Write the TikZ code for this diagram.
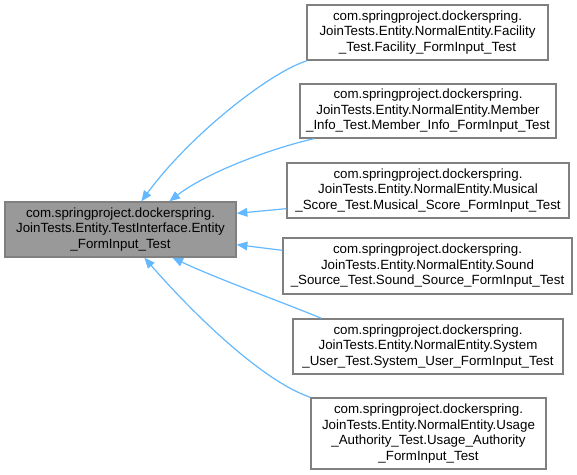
\documentclass[tikz,border=0pt]{standalone}
\usepackage{fontspec}
\setmainfont{Liberation Sans}
\usetikzlibrary{arrows.meta}
\definecolor{edgeblue}{RGB}{99,184,255}
\definecolor{boxborder}{RGB}{128,128,128}
\definecolor{mainfill}{RGB}{153,153,153}
\begin{document}
\begin{tikzpicture}[x=0.75pt,y=-0.75pt,
  cls/.style={draw=boxborder,line width=1pt,fill=white,inner sep=0pt,align=center,
    font=\fontsize{10}{11.6}\selectfont},
  mainbox/.style={cls,fill=mainfill},
  inherit/.style={draw=edgeblue,line width=0.9pt,
    {Triangle[length=8pt,width=6.5pt,fill=edgeblue]}-}]
\useasboundingbox (0,0) rectangle (577,474);
\node[mainbox,minimum width=231*0.75pt,minimum height=55*0.75pt] (main) at (120.5,229.5)
  {com.springproject.dockerspring.\\JoinTests.Entity.TestInterface.Entity\\\_FormInput\_Test};
\node[cls,minimum width=241*0.75pt,minimum height=55*0.75pt] (fac) at (427.5,32.5)
  {com.springproject.dockerspring.\\JoinTests.Entity.NormalEntity.Facility\\\_Test.Facility\_FormInput\_Test};
\node[cls,minimum width=256*0.75pt,minimum height=54*0.75pt] (mem) at (428,111)
  {com.springproject.dockerspring.\\JoinTests.Entity.NormalEntity.Member\\\_Info\_Test.Member\_Info\_FormInput\_Test};
\node[cls,minimum width=282*0.75pt,minimum height=55*0.75pt] (mus) at (428,190.5)
  {com.springproject.dockerspring.\\JoinTests.Entity.NormalEntity.Musical\\\_Score\_Test.Musical\_Score\_FormInput\_Test};
\node[cls,minimum width=289*0.75pt,minimum height=56*0.75pt] (snd) at (427.5,266)
  {com.springproject.dockerspring.\\JoinTests.Entity.NormalEntity.Sound\\\_Source\_Test.Sound\_Source\_FormInput\_Test};
\node[cls,minimum width=270*0.75pt,minimum height=55*0.75pt] (sys) at (428,346.5)
  {com.springproject.dockerspring.\\JoinTests.Entity.NormalEntity.System\\\_User\_Test.System\_User\_FormInput\_Test};
\node[cls,minimum width=235*0.75pt,minimum height=71*0.75pt] (usa) at (428.5,433.5)
  {com.springproject.dockerspring.\\JoinTests.Entity.NormalEntity.Usage\\\_Authority\_Test.Usage\_Authority\\\_FormInput\_Test};
% edges (arrow at main)
\draw[inherit] ([shift={(137,0)}]main.north west) .. controls (190,135) and (270,72) .. ([shift={(1,0)}]fac.south west);
\draw[inherit] ([shift={(165,0)}]main.north west) .. controls (210,170) and (280,146) .. ([shift={(15,0)}]mem.south west);
\draw[inherit] ([shift={(0,12)}]main.north east) -- ([shift={(0,-10)}]mus.south west);
\draw[inherit] ([shift={(0,-13)}]main.south east) -- ([shift={(0,13)}]snd.north west);
\draw[inherit] ([shift={(168,0)}]main.south west) .. controls (220,280) and (290,305) .. ([shift={(29,0)}]sys.north west);
\draw[inherit] ([shift={(140,0)}]main.south west) .. controls (190,310) and (260,380) .. (usa.north west);
\end{tikzpicture}
\end{document}
